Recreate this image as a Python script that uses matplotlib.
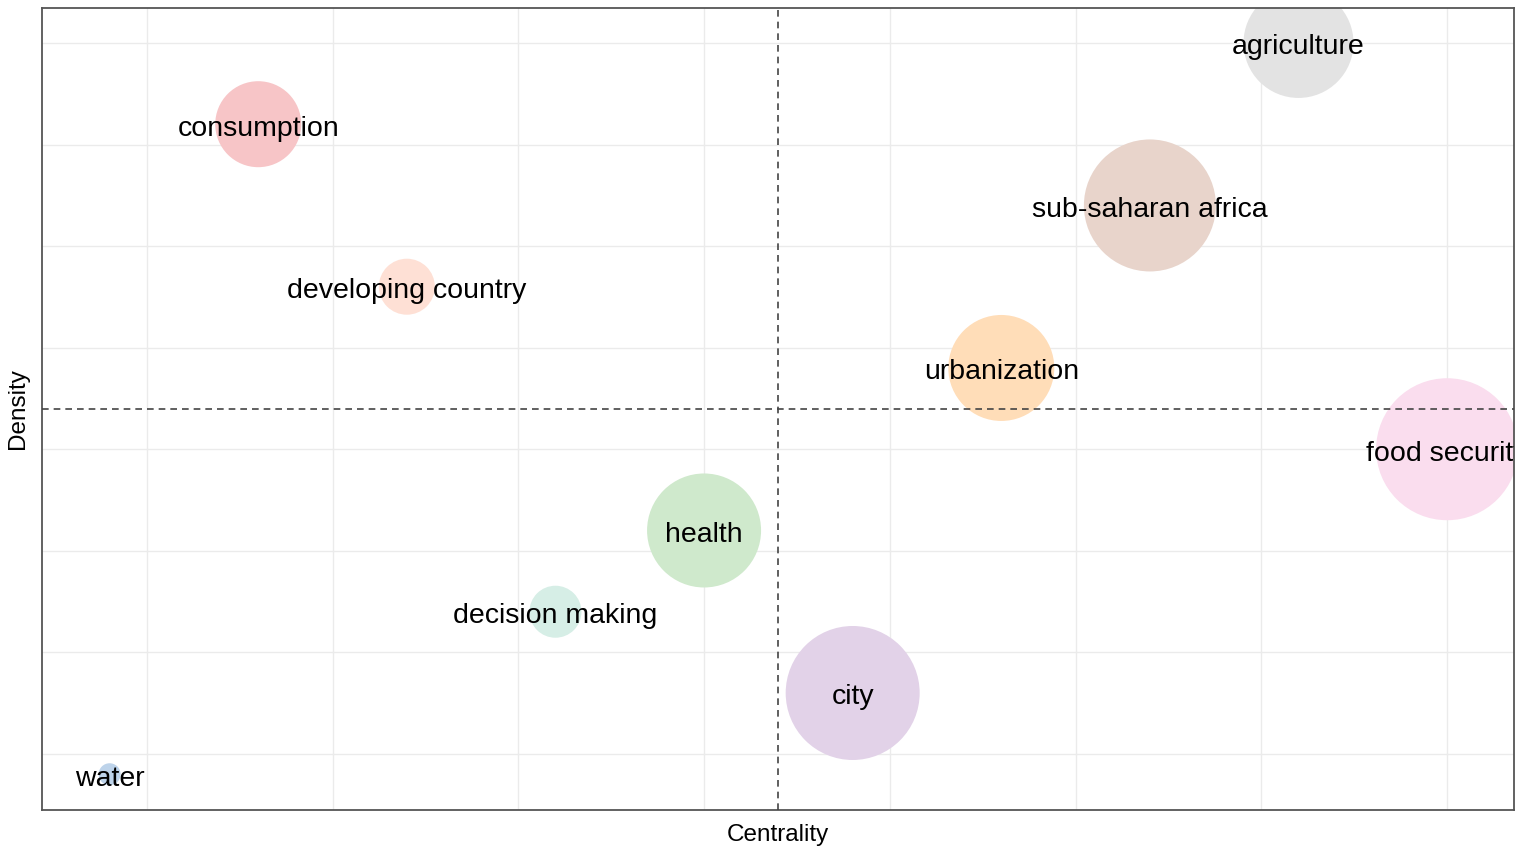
import matplotlib
matplotlib.use("Agg")
import matplotlib.pyplot as plt
import matplotlib.transforms as mtransforms
import numpy as np

plt.rcParams['font.family'] = ['Liberation Sans', 'DejaVu Sans']

labels = ["water", "consumption", "developing country", "decision making", "health",
          "city", "urbanization", "sub-saharan africa", "agriculture", "food security"]
centrality = [1, 2, 3, 4, 5, 6, 7, 8, 9, 10]
density = [1, 9, 7, 3, 4, 2, 6, 8, 10, 5]
freq = [121, 1849, 784, 676, 3249, 4489, 2809, 4356, 3025, 5041]
colors = ["#BDD3EA", "#F7C5C7", "#FEE0D5", "#D6EEE6", "#CFE9CC",
          "#E2D2E8", "#FFDDB8", "#E8D4CB", "#E3E3E3", "#FADDEE"]

dpi = 100
fig = plt.figure(figsize=(15.26, 8.5), dpi=dpi)
ax = fig.add_axes([42/1526, 40/850, (1514-42)/1526, (810-8)/850])

ax.set_xlim(0.545, 10.45)
ax.set_ylim(0.56, 10.43)

grid = np.arange(1.25, 10.01, 1.25)
ax.set_xticks(grid)
ax.set_yticks(grid)
ax.grid(True, color="#EBEBEB", linewidth=1.0, zorder=0)
ax.tick_params(length=0, labelbottom=False, labelleft=False)
for s in ax.spines.values():
    s.set_color("#555555")
    s.set_linewidth(1.3)

# bubble size: freq is radius^2 in px -> area in points^2
sizes = [(2 * np.sqrt(f) * 72 / dpi) ** 2 for f in freq]
ax.scatter(centrality, density, s=sizes, c=colors, edgecolors="none", zorder=2, clip_on=True)

ax.axvline(np.mean(centrality), color="#444444", linestyle=(0, (4, 3)), linewidth=1.2, zorder=3)
ax.axhline(np.mean(density), color="#444444", linestyle=(0, (4, 3)), linewidth=1.2, zorder=3)

tr = mtransforms.offset_copy(ax.transData, fig=fig, x=0, y=-4.5, units="dots")
for lab, x, y in zip(labels, centrality, density):
    ax.text(x, y, lab, ha="center", va="center", fontsize=20.5, color="black",
            zorder=4, clip_on=True, transform=tr)

ax.set_xlabel("Centrality", fontsize=17.5, labelpad=10)
ax.set_ylabel("Density", fontsize=17.5, labelpad=9)

fig.savefig("out.png", dpi=dpi, facecolor="white")
